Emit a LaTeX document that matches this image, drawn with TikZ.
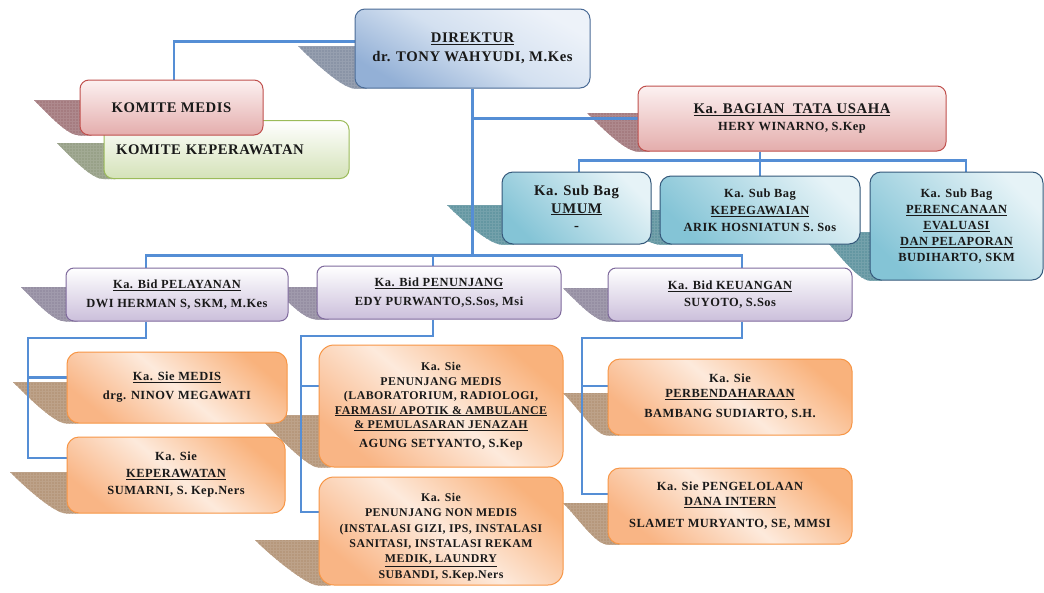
\documentclass[tikz,border=0pt]{standalone}
\usepackage{fontspec}
\setmainfont{Liberation Serif}[Scale=1.13,LetterSpace=4]
\usepackage{tikz}
\usetikzlibrary{calc,patterns}
\definecolor{linkblue}{HTML}{558ED5}
\definecolor{dirline}{HTML}{4A6B96}\definecolor{dirtop}{HTML}{EDF2F9}\definecolor{dirmid}{HTML}{D3E0F0}\definecolor{dirbot}{HTML}{93B0D6}
\definecolor{redline}{HTML}{C0504D}\definecolor{redtop}{HTML}{FCF1F1}\definecolor{redbot}{HTML}{E4ADAC}
\definecolor{greenline}{HTML}{9BBB59}\definecolor{greentop}{HTML}{FFFFFF}\definecolor{greenbot}{HTML}{D4E2B8}
\definecolor{tealline}{HTML}{34587A}\definecolor{tealtop}{HTML}{E6F3F7}\definecolor{tealbot}{HTML}{84C4D6}
\definecolor{lavline}{HTML}{7F6A9D}\definecolor{lavtop}{HTML}{FFFFFF}\definecolor{lavbot}{HTML}{CBBFDB}
\definecolor{orline}{HTML}{F79646}\definecolor{ortop}{HTML}{F9B27C}\definecolor{ormid}{HTML}{FDEADC}\definecolor{orbot}{HTML}{F9B585}
\definecolor{dirshade}{HTML}{8A94A6}\definecolor{redshade}{HTML}{A57C80}\definecolor{greenshade}{HTML}{98A188}
\definecolor{tealshade}{HTML}{6497A2}\definecolor{lavshade}{HTML}{968FA3}\definecolor{orshade}{HTML}{B6987C}
\pgfdeclarelayer{bg}\pgfdeclarelayer{shadows}\pgfdeclarelayer{links}
\pgfsetlayers{bg,shadows,links,main}
\newcommand{\boxshade}[4]{%
  \fill[#4,postaction={pattern=grid,pattern color=#4!90!white}] (#2,#3) -- (#1.west |- #2,#3) -- ++(12,0)
    -- ([xshift=12pt]#1.south west) -- (#1.south west) .. controls +(-12,0) and +(16,16) .. (#2,#3);}
\begin{document}
\begin{tikzpicture}[x=1pt,y=-1pt,
  chart/.style={inner sep=0pt,align=center,text=black!90,line width=1pt},
  dirbox/.style={chart,draw=dirline,top color=dirtop,bottom color=dirbot,middle color=dirmid,
    shading angle=-30,rounded corners=10pt,font=\fontsize{13}{19}\selectfont\bfseries},
  redbox/.style={chart,draw=redline,top color=redtop,bottom color=redbot,
    rounded corners=9pt,font=\fontsize{13}{18}\selectfont\bfseries},
  greenbox/.style={chart,draw=greenline,top color=greentop,bottom color=greenbot,
    rounded corners=9pt,font=\fontsize{13}{18}\selectfont\bfseries},
  tealbox/.style={chart,draw=tealline,top color=tealtop,bottom color=tealbot,shading angle=-45,
    rounded corners=11pt,font=\fontsize{11}{17}\selectfont\bfseries},
  lavbox/.style={chart,draw=lavline,top color=lavtop,bottom color=lavbot,
    rounded corners=8pt,font=\fontsize{11}{18.5}\selectfont\bfseries},
  orbox/.style={chart,draw=orline,top color=ortop,bottom color=orbot,middle color=ormid,shading angle=-40,
    rounded corners=12pt,font=\fontsize{11}{17}\selectfont\bfseries},
  link/.style={draw=linkblue,line width=2.4pt}
]
\begin{pgfonlayer}{bg}
\fill[white] (0,0) rectangle (1044,592);
\end{pgfonlayer}
\useasboundingbox (0,0) rectangle (1044,592);
\node[dirbox,minimum width=235pt,minimum height=79pt] (direktur) at (472.5,48.5)
  {\underline{DIREKTUR}\\dr. TONY WAHYUDI, M.Kes};
\node[greenbox,minimum width=245pt,minimum height=58pt,text width=221pt,inner xsep=12pt,align=left] (kokep) at (226.5,149.5)
  {KOMITE KEPERAWATAN};
\node[redbox,minimum width=183pt,minimum height=55pt] (komedis) at (171.5,107.5) {KOMITE MEDIS};
\node[redbox,minimum width=308pt,minimum height=65pt] (bagian) at (792,118.5)
  {\underline{Ka. BAGIAN~~TATA USAHA}\\[-1pt]{\fontsize{11}{13}\selectfont HERY WINARNO, S.Kep}};
\node[tealbox,minimum width=149pt,minimum height=72pt,font=\fontsize{13}{17.5}\selectfont\bfseries] (umum) at (576.5,208)
  {Ka. Sub Bag\\\underline{UMUM}\\-};
\node[tealbox,minimum width=200pt,minimum height=68pt] (pegawai) at (760,210)
  {Ka. Sub Bag\\\underline{KEPEGAWAIAN}\\ARIK HOSNIATUN S. Sos};
\node[tealbox,minimum width=173pt,minimum height=108pt,font=\fontsize{11}{16}\selectfont\bfseries] (rencana) at (956.5,226)
  {Ka. Sub Bag\\\underline{PERENCANAAN}\\\underline{EVALUASI}\\\underline{DAN PELAPORAN}\\BUDIHARTO, SKM};
\node[lavbox,minimum width=222pt,minimum height=53pt] (pelayanan) at (177,294.5)
  {\underline{Ka. Bid PELAYANAN}\\DWI HERMAN S, SKM, M.Kes};
\node[lavbox,minimum width=244pt,minimum height=53pt] (penunjang) at (439,292.5)
  {\underline{Ka. Bid PENUNJANG}\\EDY PURWANTO,S.Sos, Msi};
\node[lavbox,minimum width=244pt,minimum height=53pt,font=\fontsize{11}{17}\selectfont\bfseries] (keuangan) at (730,294.5)
  {\underline{Ka. Bid KEUANGAN}\\SUYOTO, S.Sos};
\node[orbox,minimum width=220pt,minimum height=71pt,font=\fontsize{11}{19}\selectfont\bfseries] (siemedis) at (177,387.5)
  {\underline{Ka. Sie MEDIS}\\drg. NINOV MEGAWATI};
\node[orbox,minimum width=218pt,minimum height=76pt] (siekep) at (176,475)
  {Ka. Sie\\\underline{KEPERAWATAN}\\SUMARNI, S. Kep.Ners};
\node[orbox,minimum width=244pt,minimum height=122pt,rounded corners=15pt,font=\fontsize{10.5}{14.5}\selectfont\bfseries] (penmedis) at (441,406)
  {Ka. Sie\\PENUNJANG MEDIS\\(LABORATORIUM, RADIOLOGI,\\\underline{FARMASI/ APOTIK \& AMBULANCE}\\\underline{\& PEMULASARAN JENAZAH}\\[4pt]{\fontsize{11}{13}\selectfont AGUNG SETYANTO, S.Kep}};
\node[orbox,minimum width=244pt,minimum height=108pt,rounded corners=15pt,font=\fontsize{10.5}{15.4}\selectfont\bfseries] (pennon) at (441,531)
  {\rule{0pt}{20pt}Ka. Sie\\PENUNJANG NON MEDIS\\(INSTALASI GIZI, IPS, INSTALASI\\SANITASI, INSTALASI REKAM\\\underline{MEDIK, LAUNDRY}\\SUBANDI, S.Kep.Ners};
\node[orbox,minimum width=244pt,minimum height=76pt,font=\fontsize{11}{15}\selectfont\bfseries] (bendahara) at (730,397)
  {Ka. Sie\\\underline{PERBENDAHARAAN}\\[5pt]BAMBANG SUDIARTO, S.H.};
\node[orbox,minimum width=244pt,minimum height=76pt,font=\fontsize{11}{15}\selectfont\bfseries] (dana) at (730,506)
  {Ka. Sie PENGELOLAAN\\\underline{DANA INTERN}\\[7pt]SLAMET MURYANTO, SE, MMSI};
\begin{pgfonlayer}{shadows}
\boxshade{direktur}{298}{46}{dirshade}
\boxshade{komedis}{34}{100}{redshade}
\boxshade{kokep}{57}{143}{greenshade}
\boxshade{bagian}{587}{113}{redshade}
\boxshade{umum}{447}{205}{tealshade}
\boxshade{pegawai}{605}{210}{tealshade}
\boxshade{rencana}{818}{232}{tealshade}
\boxshade{pelayanan}{21}{287}{lavshade}
\boxshade{penunjang}{273}{287}{lavshade}
\boxshade{keuangan}{563}{288}{lavshade}
\boxshade{siemedis}{13}{382}{orshade}
\boxshade{siekep}{10}{472}{orshade}
\boxshade{penmedis}{257}{415}{orshade}
\boxshade{pennon}{255}{540}{orshade}
\boxshade{bendahara}{563}{393}{orshade}
\boxshade{dana}{563}{503}{orshade}
\end{pgfonlayer}
\begin{pgfonlayer}{links}
\coordinate (tubar) at ($(pegawai.north)+(0,-15)$);
\coordinate (lspine) at (28,338);
\coordinate (mspine) at (301,336);
\coordinate (rspine) at (582,338);
\draw[link] ([yshift=7pt]direktur.west) -| ([xshift=2.5pt]komedis.north);
\draw[link] (bagian.west) -| (direktur.south);
\draw[link] (direktur.south) -- ++(0,167);
\draw[link] ([xshift=-32pt]bagian.south) -- (pegawai.north);
\draw[link] ([xshift=2.5pt]umum.north) |- (tubar) -| ([xshift=9.5pt]rencana.north);
\draw[link] ([xshift=-31pt]pelayanan.north) -- ++(0,-12) -| ([xshift=12pt]keuangan.north);
\draw[link] ([xshift=-6pt]penunjang.north) -- ++(0,-10);
\draw[link] ([xshift=-31pt]pelayanan.south) |- (lspine) |- ([yshift=17pt]siekep.west);
\draw[link] ([yshift=10pt]siemedis.west) -| (lspine);
\draw[link] ([xshift=-6pt]penunjang.south) |- (mspine) |- ([yshift=19pt]pennon.west);
\draw[link] ([yshift=20pt]penmedis.west) -| (mspine);
\draw[link] ([xshift=12pt]keuangan.south) |- (rspine) |- ([yshift=12pt]dana.west);
\draw[link] ([yshift=11pt]bendahara.west) -| (rspine);
\end{pgfonlayer}
\end{tikzpicture}
\end{document}
